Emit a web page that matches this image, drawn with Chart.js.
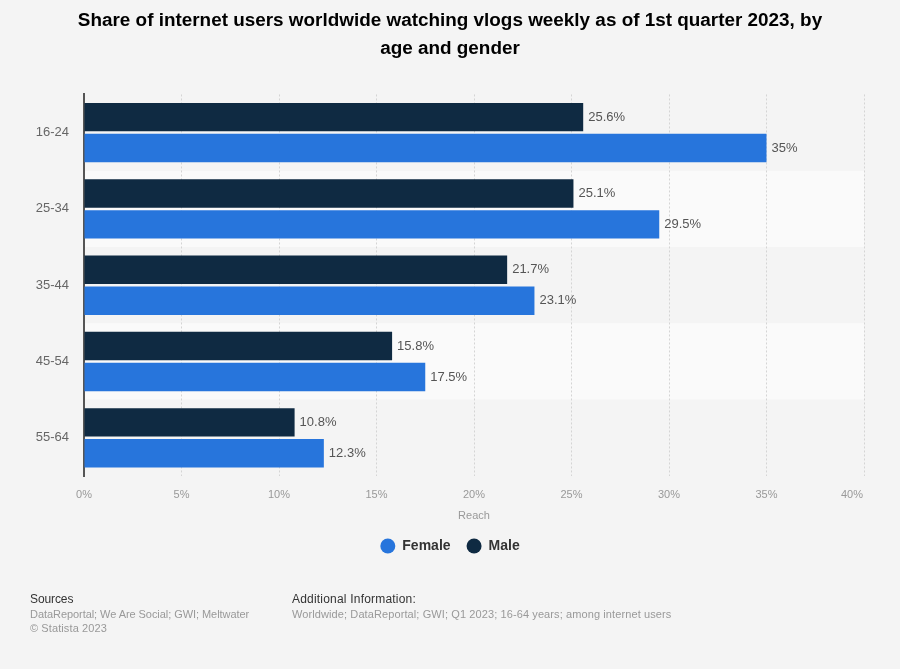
<!DOCTYPE html>
<html><head><meta charset="utf-8">
<style>
html,body{margin:0;padding:0;background:#f4f4f4;}
#wrap{position:relative;width:900px;height:669px;overflow:hidden;font-family:"Liberation Sans",Arial,sans-serif;}
canvas{position:absolute;left:0;top:0;}
.t{position:absolute;white-space:nowrap;font-size:11px;line-height:14px;letter-spacing:.1px;color:#999;}
.h{color:#333;font-size:12px;}
</style>
<script src="https://cdn.jsdelivr.net/npm/chart.js@4"></script>
</head><body><div id="wrap">
<canvas id="c" width="900" height="669"></canvas>
<div class="t h" style="left:30px;top:592px;letter-spacing:-.1px">Sources</div>
<div class="t" style="left:30px;top:607px;letter-spacing:-.06px">DataReportal; We Are Social; GWI; Meltwater</div>
<div class="t" style="left:30px;top:621px">© Statista 2023</div>
<div class="t h" style="left:292px;top:592px;letter-spacing:.2px">Additional Information:</div>
<div class="t" style="left:292px;top:607px">Worldwide; DataReportal; GWI; Q1 2023; 16-64 years; among internet users</div>
</div>
<script>
const categories = ["16-24","25-34","35-44","45-54","55-64"];
const male = [25.6,25.1,21.7,15.8,10.8];
const female = [35,29.5,23.1,17.5,12.3];
const titleLines = ["Share of internet users worldwide watching vlogs weekly as of 1st quarter 2023, by","age and gender"];
const FONT = '"Liberation Sans",Arial,sans-serif';

const bands = {
  id:'bands',
  beforeDraw(ch){
    const {ctx,chartArea:a,scales:{x,y}}=ch;
    const items=x.getLabelItems(ch.chartArea);
    const last=items[items.length-1];
    if(last && !last.shifted){last.options.translation[0]-=12;last.shifted=true;}
    const h=(a.bottom-a.top)/categories.length;
    ctx.save();
    categories.forEach((c,i)=>{
      ctx.fillStyle=i%2?'#fafafa':'#f4f4f4';
      ctx.fillRect(a.left,y.getPixelForValue(i)-h/2,a.right-a.left,h);
    });
    ctx.restore();
  }
};
const valueLabels = {
  id:'valueLabels',
  afterDatasetsDraw(ch){
    const {ctx}=ch;
    ctx.save();
    ctx.font='13px '+FONT;ctx.fillStyle='#555';ctx.textBaseline='middle';ctx.textAlign='left';
    ch.data.datasets.forEach((d,di)=>{
      ch.getDatasetMeta(di).data.forEach((b,i)=>ctx.fillText(d.data[i]+'%',b.x+5,b.y));
    });
    ctx.restore();
  }
};
new Chart(document.getElementById('c'),{
  type:'bar',
  data:{labels:categories,datasets:[
    {label:'Male',data:male,backgroundColor:'#0f2a42',borderWidth:0,categoryPercentage:0.81,barPercentage:0.92},
    {label:'Female',data:female,backgroundColor:'#2775dc',borderWidth:0,categoryPercentage:0.81,barPercentage:0.92}
  ]},
  options:{
    indexAxis:'y',responsive:false,animation:false,devicePixelRatio:1,
    layout:{padding:{left:36,right:36,top:0,bottom:106}},
    scales:{
      y:{
        grid:{display:false,drawTicks:false},
        border:{display:true,color:'#555',width:2},
        ticks:{color:'#666',font:{family:FONT,size:13},padding:15},
        afterFit(s){s.width=48;}
      },
      x:{
        min:0,max:40,
        grid:{color:'#d4d4d4',drawTicks:false,lineWidth:1},
        border:{display:false,dash:[2,2]},
        ticks:{stepSize:5,color:'#999',font:{family:FONT,size:11},padding:12,callback:v=>v+'%'},
        title:{display:true,text:'Reach',color:'#999',font:{family:FONT,size:11},padding:{top:0,bottom:0}},
        afterFit(s){s.height=47;}
      }
    },
    plugins:{
      title:{display:true,text:titleLines,color:'#000',font:{family:FONT,size:18.9,weight:'bold',lineHeight:1.48},padding:{top:7,bottom:31.5}},
      legend:{position:'bottom',labels:{usePointStyle:true,pointStyle:'circle',pointStyleWidth:15,boxHeight:10.6,padding:16,color:'#333',font:{family:FONT,size:14,weight:'bold'},sort:(a,b)=>b.datasetIndex-a.datasetIndex}},
      tooltip:{enabled:false}
    }
  },
  plugins:[bands,valueLabels]
});
</script></body></html>
